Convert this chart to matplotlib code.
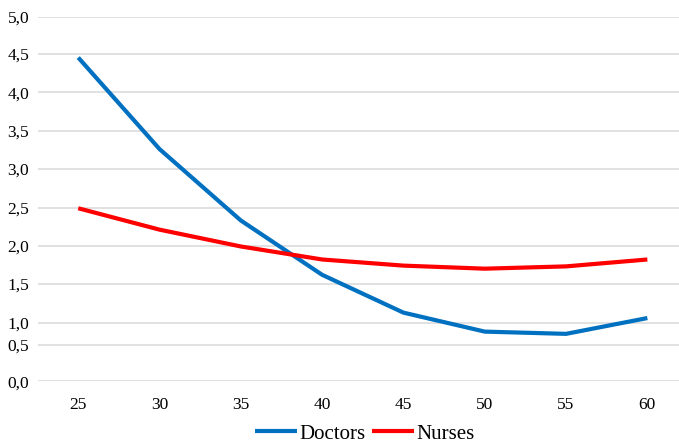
import numpy as np
import matplotlib
matplotlib.use("Agg")
import matplotlib.pyplot as plt

ages = [25, 30, 35, 40, 45, 50, 55, 60]
doctors = [4.45, 3.26, 2.33, 1.62, 1.13, 0.80, 0.75, 1.06]
nurses = [2.49, 2.21, 1.99, 1.82, 1.74, 1.70, 1.73, 1.82]
y_tick_values = [0.0, 0.5, 1.0, 1.5, 2.0, 2.5, 3.0, 3.5, 4.0, 4.5, 5.0]
y_tick_labels = ["0,0", "0,5", "1,0", "1,5", "2,0", "2,5", "3,0", "3,5", "4,0", "4,5", "5,0"]

# gridline heights as they appear in the reference (pixels above the axis bottom)
grid_px = np.array([0.0, 36.3, 58.6, 97.3, 135.6, 173.8, 212.3, 250.6, 289.0, 327.6, 364.3])
vals = np.array(y_tick_values)

def fwd(v):
    return np.interp(np.asarray(v, dtype=float), vals, grid_px)

def inv(p):
    return np.interp(np.asarray(p, dtype=float), grid_px, vals)

FONT = 'Liberation Serif'
plt.rcParams['font.family'] = FONT

fig = plt.figure(figsize=(6.79, 4.45), dpi=100)
ax = fig.add_axes([37.6 / 679, (445 - 381.3) / 445, (688 - 37.6) / 679, (381.3 - 17) / 445])
ax.set_yscale('function', functions=(fwd, inv))

ax.plot(ages, doctors, color='#0070C0', lw=3.0, label='Doctors', solid_capstyle='butt', zorder=3)
ax.plot(ages, nurses, color='#FF0000', lw=3.0, label='Nurses', solid_capstyle='butt', zorder=3)

ax.set_xlim(22.5, 62.5)
ax.set_ylim(0, 5)
ax.set_xticks(ages)
ax.set_xticklabels([str(a) for a in ages], fontfamily=FONT, fontsize=12.5)
ax.set_yticks(y_tick_values)
ax.set_yticklabels(y_tick_labels, fontfamily=FONT, fontsize=12.5)
ax.yaxis.grid(True, color='#D9D9D9', lw=1.1)
ax.set_axisbelow(True)
for s in ax.spines.values():
    s.set_visible(False)
ax.tick_params(axis='both', length=0, colors='#000000')
ax.tick_params(axis='y', pad=6)
ax.tick_params(axis='x', pad=11)

fig.legend(loc='center', bbox_to_anchor=(365 / 679, 1 - 434 / 445), ncol=2, frameon=False,
           prop={'family': FONT, 'size': 15}, handlelength=2.0, handletextpad=0.15,
           columnspacing=0.3, borderpad=0)

fig.savefig('out.png', dpi=100)
